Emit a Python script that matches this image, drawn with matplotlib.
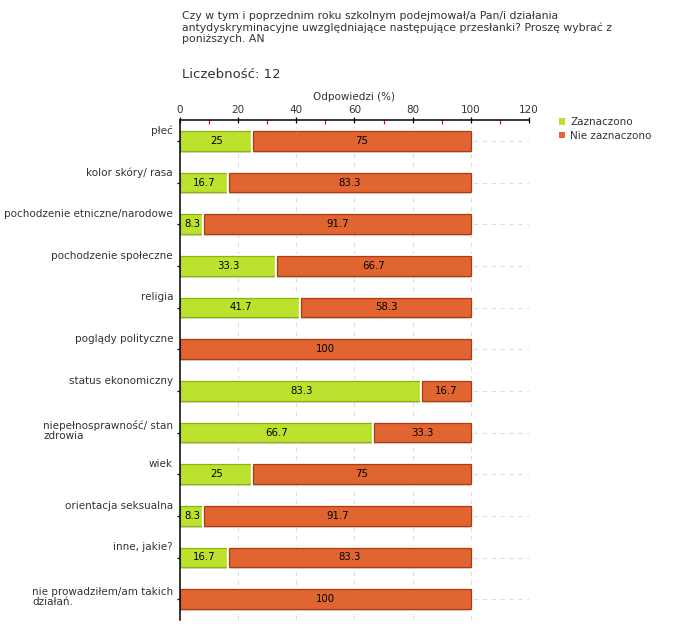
import matplotlib
matplotlib.use("Agg")
import matplotlib.pyplot as plt
from matplotlib.patches import Patch
from matplotlib.transforms import ScaledTranslation
import matplotlib.patheffects as pe

categories = [
    "płeć",
    "kolor skóry/ rasa",
    "pochodzenie etniczne/narodowe",
    "pochodzenie społeczne",
    "religia",
    "poglądy polityczne",
    "status ekonomiczny",
    "niepełnosprawność/ stan\nzdrowia",
    "wiek",
    "orientacja seksualna",
    "inne, jakie?",
    "nie prowadziłem/am takich\ndziałań.",
]
zaznaczono = [25, 16.7, 8.3, 33.3, 41.7, 0, 83.3, 66.7, 25, 8.3, 16.7, 0]
nie_zaznaczono = [75, 83.3, 91.7, 66.7, 58.3, 100, 16.7, 33.3, 75, 91.7, 83.3, 100]
series_names = ["Zaznaczono", "Nie zaznaczono"]

title = ("Czy w tym i poprzednim roku szkolnym podejmował/a Pan/i działania\n"
         "antydyskryminacyjne uwzględniające następujące przesłanki? Proszę wybrać z\n"
         "poniższych. AN")

green, green_edge = "#bde22e", "#8db30f"
orange, orange_edge = "#e06530", "#b03a10"
text_col = "#333333"

plt.rcParams['font.family'] = ['DejaVu Sans']

fig = plt.figure(figsize=(6.8, 6.4), dpi=100)
ax = fig.add_axes([180 / 680, 1 - 620 / 640, 349 / 680, 500 / 640])

ypos = list(range(len(categories)))
h = 0.47
shadow = [pe.SimplePatchShadow(offset=(0, -1.5), shadow_rgbFace="#d8d8d8", alpha=1), pe.Normal()]

for y, g, o in zip(ypos, zaznaczono, nie_zaznaczono):
    if g > 0:
        b = ax.barh(y, g, height=h, left=0, color=green, edgecolor=green_edge, linewidth=0.9, zorder=3)
        b[0].set_path_effects([pe.Stroke(linewidth=3, foreground="white")] + shadow)
        ax.text(g / 2, y, f"{g:g}", ha="center", va="center", fontsize=7.3, color="black", zorder=5)
    if o > 0:
        b = ax.barh(y, o, height=h, left=g, color=orange, edgecolor=orange_edge, linewidth=0.9, zorder=3)
        b[0].set_path_effects([pe.Stroke(linewidth=3, foreground="white")] + shadow)
        ax.text(g + o / 2, y, f"{o:g}", ha="center", va="center", fontsize=7.3, color="black", zorder=5)

ax.set_xlim(0, 120)
ax.set_ylim(len(categories) - 0.5, -0.5)

# siatka
for x in range(20, 121, 20):
    ax.axvline(x, color="#dddddd", linestyle=(0, (4, 4)), linewidth=0.8, zorder=1)
for y in ypos:
    ax.axhline(y, color="#dddddd", linestyle=(0, (4, 4)), linewidth=0.8, zorder=1)

ax.xaxis.tick_top()
ax.xaxis.set_label_position("top")
ax.set_xticks(range(0, 121, 20))
ax.set_xticks(range(10, 120, 20), minor=True)
ax.tick_params(axis="x", which="major", direction="inout", length=5, width=0.9, colors="black",
               labelcolor=text_col, labelsize=7.5, pad=1)
ax.tick_params(axis="x", which="minor", direction="in", length=3, width=0.9, colors="red")
ax.set_xlabel("Odpowiedzi (%)", fontsize=7.5, color=text_col, labelpad=4)

ax.set_yticks(ypos)
ax.set_yticklabels(categories)
ax.tick_params(axis="y", direction="out", length=2, width=0.9, labelsize=7.5, labelcolor=text_col, pad=3)
for lab in ax.get_yticklabels():
    lab.set_multialignment("left")
    lab.set_linespacing(0.95)
    dy = 2 / 72 if "\n" in lab.get_text() else 8 / 72
    lab.set_transform(lab.get_transform() + ScaledTranslation(0, dy, fig.dpi_scale_trans))

for s in ["right", "bottom"]:
    ax.spines[s].set_visible(False)
for s in ["top", "left"]:
    ax.spines[s].set_linewidth(1.1)
    ax.spines[s].set_zorder(6)

fig.text(182 / 680, 1 - 11 / 640, title, fontsize=7.8, color=text_col, va="top", ha="left",
         linespacing=1.18)
fig.text(182 / 680, 1 - 75 / 640, "Liczebność: 12", fontsize=9.5, color=text_col, va="center", ha="left")

handles = [Patch(facecolor=green, edgecolor="none"), Patch(facecolor=orange, edgecolor="none")]
fig.legend(handles, series_names, loc="upper left", bbox_to_anchor=(559 / 680, 1 - 117 / 640),
           frameon=False, fontsize=7.5, handlelength=0.6, handleheight=0.6, handletextpad=0.5,
           labelspacing=0.35, labelcolor=text_col, borderaxespad=0, borderpad=0)

fig.savefig("out.png", dpi=100)
